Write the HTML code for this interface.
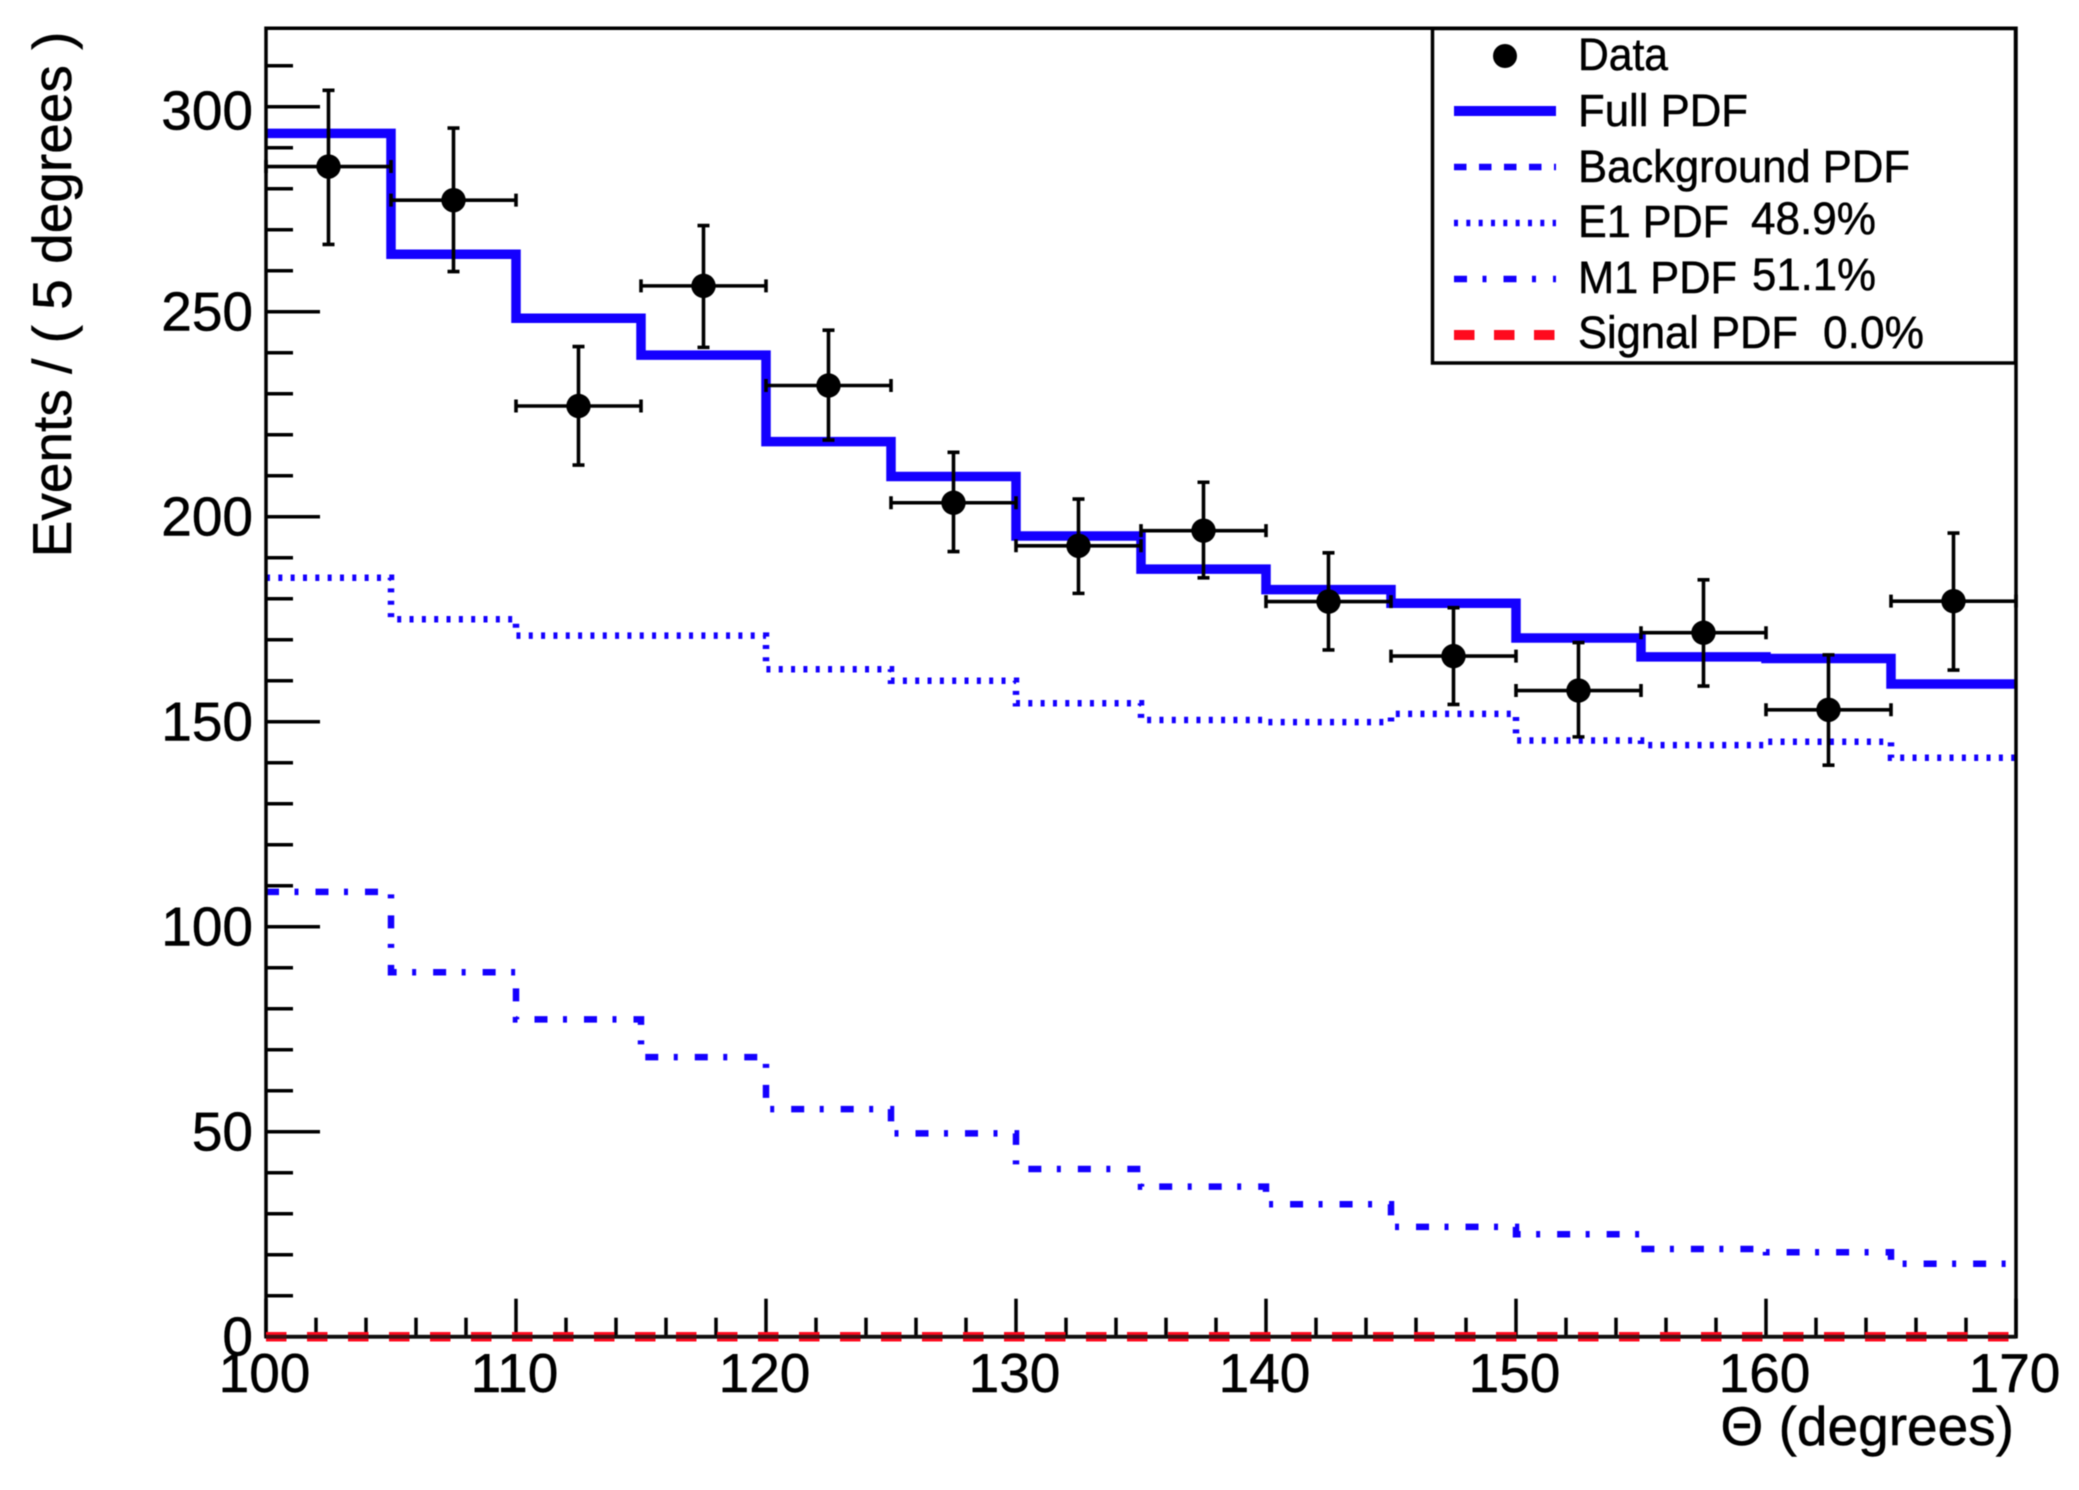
<!DOCTYPE html>
<html lang="en">
<head>
<meta charset="utf-8">
<title>Events vs Theta</title>
<style>
html,body{margin:0;padding:0;background:#fff;}
svg{display:block;font-family:"Liberation Sans",Arial,sans-serif;fill:#000;filter:blur(0.6px);}
text{stroke:#000;stroke-width:0.5px;}
</style>
</head>
<body>
<svg id="chart" xmlns="http://www.w3.org/2000/svg" width="2079" height="1490" viewBox="0 0 2079 1490">
  <rect x="0" y="0" width="2079" height="1490" fill="#fff"/>
  <g id="plot"></g>
  <text transform="translate(71,31.5) rotate(-90)" font-size="55" text-anchor="end">Events / ( 5 degrees )</text>
  <text x="2014" y="1445" font-size="55" text-anchor="end">Θ (degrees)</text>
  <g>
    <rect x="1432.5" y="28.5" width="583" height="334.5" fill="#fff" stroke="#000" stroke-width="3.5"/>
    <circle cx="1505" cy="56" r="12" fill="#000"/>
    <text x="1578" y="70" font-size="45" textLength="90" lengthAdjust="spacingAndGlyphs">Data</text>
    <line x1="1454" y1="111" x2="1556" y2="111" stroke="#1400ff" stroke-width="10"/>
    <text x="1578" y="126" font-size="45" textLength="170" lengthAdjust="spacingAndGlyphs">Full PDF</text>
    <line x1="1454" y1="167" x2="1556" y2="167" stroke="#1400ff" stroke-width="6.5" stroke-dasharray="12.5 12.5"/>
    <text x="1578" y="182" font-size="45" textLength="332" lengthAdjust="spacingAndGlyphs">Background PDF</text>
    <line x1="1454" y1="223" x2="1556" y2="223" stroke="#1400ff" stroke-width="6.5" stroke-dasharray="4 8.33"/>
    <text x="1578" y="237" font-size="45" textLength="151" lengthAdjust="spacingAndGlyphs">E1 PDF</text>
    <text x="1751" y="234" font-size="45" textLength="125" lengthAdjust="spacingAndGlyphs">48.9%</text>
    <line x1="1454" y1="279" x2="1556" y2="279" stroke="#1400ff" stroke-width="6.5" stroke-dasharray="13 15.5 4 17"/>
    <text x="1578" y="293" font-size="45" textLength="159" lengthAdjust="spacingAndGlyphs">M1 PDF</text>
    <text x="1752" y="290" font-size="45" textLength="124" lengthAdjust="spacingAndGlyphs">51.1%</text>
    <line x1="1454" y1="335" x2="1556" y2="335" stroke="#ff0a1e" stroke-width="10" stroke-dasharray="20.5 19.5"/>
    <text x="1578" y="348" font-size="45" textLength="220" lengthAdjust="spacingAndGlyphs">Signal PDF</text>
    <text x="1823" y="348" font-size="45" textLength="101" lengthAdjust="spacingAndGlyphs">0.0%</text>
  </g>
</svg>
<script>
const binEdges = [100,105,110,115,120,125,130,135,140,145,150,155,160,165,170];
const dataCenters = [102.5,107.5,112.5,117.5,122.5,127.5,132.5,137.5,142.5,147.5,152.5,157.5,162.5,167.5];
const dataValues = [285.4,277.2,227,256.3,232,203.4,192.9,196.6,179.3,166,157.6,171.7,152.9,179.4];
const dataHigh = [304,294.8,241.5,271,245.5,215.7,204.3,208.4,191.2,177.8,169.3,184.6,166.3,196];
const dataLow = [266.4,259.8,212.6,241.3,218.7,191.5,181.3,185.1,167.5,154.2,146.3,158.7,139.4,162.6];
const fullPdf = [293.5,264,248.4,239.4,218.3,209.8,195.3,187.2,182.2,178.9,170.4,165.8,165.4,159.2];
const backgroundPdf = [0,0,0,0,0,0,0,0,0,0,0,0,0,0];
const e1Pdf = [185.1,175,171,171,162.8,160,154.5,150.4,149.9,151.9,145.4,144.3,145.1,141.2];
const m1Pdf = [108.5,88.9,77.4,68.2,55.5,49.6,40.9,36.6,32.3,26.8,25,21.4,20.6,17.8];
const signalPdf = [0,0,0,0,0,0,0,0,0,0,0,0,0,0];
const xTickLabels = [100,110,120,130,140,150,160,170];
const yTickLabels = [0,50,100,150,200,250,300];
const xMinorTicks = [102,104,106,108,112,114,116,118,122,124,126,128,132,134,136,138,142,144,146,148,152,154,156,158,162,164,166,168];
const yMinorTicks = [10,20,30,40,60,70,80,90,110,120,130,140,160,170,180,190,210,220,230,240,260,270,280,290,310];

const NS = 'http://www.w3.org/2000/svg';
const plot = document.getElementById('plot');
const X0 = 266, X1 = 2016, Y0 = 1336.7, YT = 28.3;
const sx = v => X0 + (v - 100) * (X1 - X0) / 70;
const sy = v => Y0 - v * 4.1;

function mk(tag, attrs, parent) {
  const el = document.createElementNS(NS, tag);
  for (const k in attrs) el.setAttribute(k, attrs[k]);
  (parent || plot).appendChild(el);
  return el;
}
function stepPath(values) {
  let d = 'M' + sx(binEdges[0]) + ' ' + sy(values[0]);
  values.forEach((v, i) => {
    d += 'L' + sx(binEdges[i]) + ' ' + sy(v) + 'L' + sx(binEdges[i + 1]) + ' ' + sy(v);
  });
  return d;
}
const LINE = {fill: 'none', 'stroke-linejoin': 'miter'};

/* step curves */
const fullPath = mk('path', {...LINE, d: stepPath(fullPdf), stroke: '#1400ff', 'stroke-width': 9.5});


const e1Path = mk('path', {...LINE, d: stepPath(e1Pdf), stroke: '#1400ff', 'stroke-width': 6.5, 'stroke-dasharray': '4 8.33'});


const m1Path = mk('path', {...LINE, d: stepPath(m1Pdf), stroke: '#1400ff', 'stroke-width': 6.5, 'stroke-dasharray': '13 15.5 4 17'});


const bgPath = mk('path', {...LINE, d: stepPath(backgroundPdf), stroke: '#1400ff', 'stroke-width': 3, 'stroke-dasharray': '12.5 12.5'});



/* axes */
const frame = mk('path', {d: 'M' + X0 + ' ' + Y0 + 'V' + YT + 'H' + X1 + 'V' + Y0 + 'H' + X0 + 'Z', fill: 'none', stroke: '#000', 'stroke-width': 3.5});



yTickLabels.forEach(v => {
  const t = mk('line', {x1: X0, x2: X0 + 54, y1: sy(v), y2: sy(v), stroke: '#000', 'stroke-width': 3.5});
  
  
  const l = mk('text', {x: 253, y: sy(v) + (v === 300 ? 23 : 19), 'font-size': 55, 'text-anchor': 'end'});
  
  
  l.textContent = v;
});
yMinorTicks.forEach(v => {
  const t = mk('line', {x1: X0, x2: X0 + 27, y1: sy(v), y2: sy(v), stroke: '#000', 'stroke-width': 3.5});
  
  
});
xTickLabels.forEach(v => {
  const t = mk('line', {x1: sx(v), x2: sx(v), y1: Y0, y2: Y0 - 38, stroke: '#000', 'stroke-width': 3.5});
  
  
  const l = mk('text', {x: sx(v) - 1.5, y: 1392, 'font-size': 55, 'text-anchor': 'middle'});
  
  
  l.textContent = v;
});
xMinorTicks.forEach(v => {
  const t = mk('line', {x1: sx(v), x2: sx(v), y1: Y0, y2: Y0 - 19, stroke: '#000', 'stroke-width': 3.5});
  
  
});

/* signal curve sits on the axis line; axis shows through it */
const sigPath = mk('path', {...LINE, d: stepPath(signalPdf), stroke: '#ff0a1e', 'stroke-width': 9.5, 'stroke-dasharray': '20.5 20.5'});


const axisOver = mk('line', {x1: X0, x2: X1, y1: Y0, y2: Y0, stroke: '#111', 'stroke-width': 4, 'stroke-opacity': 0.8});



/* data points */
dataCenters.forEach((c, i) => {
  const g = mk('g', {});
  
  
  const cx = sx(c), cy = sy(dataValues[i]), left = sx(c - 2.5), right = sx(c + 2.5), hi = sy(dataHigh[i]), lo = sy(dataLow[i]);
  const st = {stroke: '#000', 'stroke-width': 3.6};
  const h = mk('line', {...st, x1: left, x2: right, y1: cy, y2: cy}, g);
  
  
  const v = mk('line', {...st, x1: cx, x2: cx, y1: hi, y2: lo}, g);
  
  
  const caps = mk('path', {...st, fill: 'none', d:
    'M' + left + ' ' + (cy - 6.5) + 'V' + (cy + 6.5) +
    'M' + right + ' ' + (cy - 6.5) + 'V' + (cy + 6.5) +
    'M' + (cx - 6) + ' ' + hi + 'H' + (cx + 6) +
    'M' + (cx - 6) + ' ' + lo + 'H' + (cx + 6)}, g);
  
  
  const m = mk('circle', {cx: cx, cy: cy, r: 12.2, fill: '#000'}, g);
  
  
});
</script>
</body>
</html>
